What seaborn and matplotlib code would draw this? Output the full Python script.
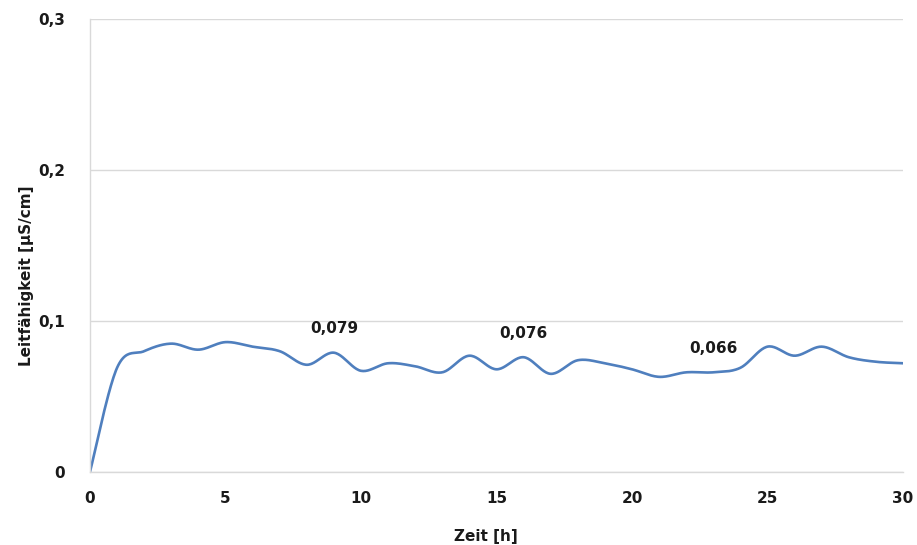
import numpy as np
import pandas as pd
import matplotlib
matplotlib.use("Agg")
import matplotlib.pyplot as plt
import seaborn as sns

hours = list(range(0, 31))
conductivity = [0.000, 0.069, 0.080, 0.085, 0.081, 0.086, 0.083, 0.080, 0.071, 0.079,
                0.067, 0.072, 0.070, 0.066, 0.077, 0.068, 0.076, 0.065, 0.074, 0.072,
                0.068, 0.063, 0.066, 0.066, 0.069, 0.083, 0.077, 0.083, 0.076, 0.073, 0.072]
label_hours = [9, 16, 23]
label_texts = ["0,079", "0,076", "0,066"]
y_ticks = [0, 0.1, 0.2, 0.3]
y_ticklabels = ["0", "0,1", "0,2", "0,3"]
x_ticks = [0, 5, 10, 15, 20, 25, 30]

sns.set_theme(style="white")
plt.rcParams['font.family'] = ['DejaVu Sans']

# Smooth rendering in screen space (like Excel's smoothed line)
XS, YS = 27.1, 1510.0
def smooth2d(x, y, n=24):
    P = np.column_stack([np.asarray(x, float) * XS, np.asarray(y, float) * YS])
    P = np.vstack([P[0], P, P[-1]])
    t = np.linspace(0, 1, n, endpoint=False)[:, None]
    pts = []
    for i in range(1, len(P) - 2):
        p0, p1, p2, p3 = P[i-1], P[i], P[i+1], P[i+2]
        c1 = p1 + (p2 - p0) / 6
        c2 = p2 - (p3 - p1) / 6
        b = (1-t)**3*p1 + 3*(1-t)**2*t*c1 + 3*(1-t)*t**2*c2 + t**3*p2
        pts.append(b)
    pts.append(P[-2][None, :])
    pts = np.vstack(pts)
    return pts[:, 0] / XS, pts[:, 1] / YS

sx, sy = smooth2d(hours, conductivity)
df = pd.DataFrame({"Zeit": sx, "Leit": sy})

fig = plt.figure(figsize=(9.17, 5.45), dpi=100)
ax = fig.add_axes([0.0981, 0.134, 0.8866, 0.8311])
sns.lineplot(data=df, x="Zeit", y="Leit", ax=ax, color="#4F7FBE", linewidth=1.9,
             sort=False, estimator=None)

ax.set_xlim(0, 30)
ax.set_ylim(0, 0.3)
ax.set_xticks(x_ticks)
ax.set_xticklabels([str(v) for v in x_ticks], fontweight="bold", fontsize=11, color="#1a1a1a")
ax.set_yticks(y_ticks)
ax.set_yticklabels(y_ticklabels, fontweight="bold", fontsize=11, color="#1a1a1a")
ax.tick_params(axis="x", length=0, pad=14)
ax.tick_params(axis="y", length=0, pad=18)
ax.yaxis.grid(True, color="#D9D9D9", linewidth=1)
ax.set_axisbelow(True)
for s in ["top", "right"]:
    ax.spines[s].set_visible(False)
for s in ["left", "bottom"]:
    ax.spines[s].set_color("#D9D9D9")
    ax.spines[s].set_linewidth(1)

ax.set_xlabel("Zeit [h]", fontweight="bold", fontsize=11, color="#1a1a1a", labelpad=16)
ax.set_ylabel("Leitfähigkeit [µS/cm]", fontweight="bold", fontsize=11, color="#1a1a1a", labelpad=3)
ax.xaxis.label.set_x(0.487)
ax.yaxis.label.set_y(0.433)

for h, t in zip(label_hours, label_texts):
    v = conductivity[hours.index(h)]
    ax.annotate(t, (h, v), xytext=(0, 12), textcoords="offset points", ha="center", va="bottom",
                fontweight="bold", fontsize=11, color="#1a1a1a")

fig.savefig("out.png", dpi=100)
